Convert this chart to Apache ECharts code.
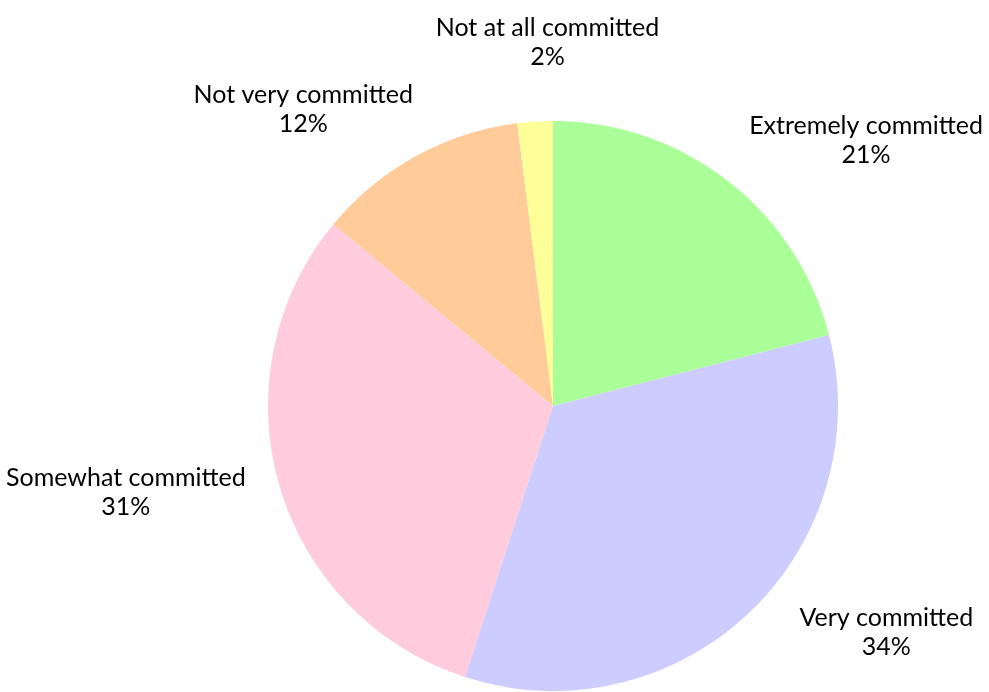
<!DOCTYPE html>
<html>
<head>
<meta charset="utf-8">
<script src="https://cdn.jsdelivr.net/npm/echarts@6/dist/echarts.min.js"></script>
<style>
  html, body { margin: 0; padding: 0; background: #fff; }
  #chart { width: 989px; height: 692px; }
</style>
</head>
<body>
<div id="chart"></div>
<script>
// commitment survey, percent of respondents
var categories = ['Extremely committed', 'Very committed', 'Somewhat committed', 'Not very committed', 'Not at all committed'];
var shares = [21, 34, 31, 12, 2];
var colors = ['#aaff99', '#ccccff', '#ffccdd', '#ffcc99', '#ffff99'];

var cx = 553, cy = 406, r = 285;
// labels sit on an oval a bit outside the pie
var labelRx = 360, labelRyTop = 336, labelRyBottom = 310;
var chartW = 989, pad = 6;

// mid angle of each slice, clockwise from the top
var total = shares.reduce(function (a, b) { return a + b; }, 0);
var mids = [];
var acc = 0;
shares.forEach(function (v) {
  mids.push((acc + v / 2) / total * Math.PI * 2);
  acc += v;
});

var myChart = echarts.init(document.getElementById('chart'));
var option = {
  animation: false,
  color: colors,
  series: [{
    type: 'pie',
    center: [cx, cy],
    radius: r,
    startAngle: 90,
    clockwise: true,
    data: categories.map(function (name, i) {
      return { name: name, value: shares[i] };
    }),
    itemStyle: { borderWidth: 0 },
    emphasis: { disabled: true },
    label: {
      show: true,
      position: 'outside',
      overflow: 'none',
      formatter: function (p) { return p.name + '\n' + p.value + '%'; },
      fontFamily: 'Lato',
      fontSize: 25,
      lineHeight: 29,
      color: '#000',
      align: 'center'
    },
    labelLine: { show: false },
    labelLayout: function (params) {
      var th = mids[params.dataIndex];
      var s = Math.sin(th), c = Math.cos(th);
      var w = params.labelRect.width, h = params.labelRect.height;
      var tx = (s < 0 ? -1 : 1) * Math.min(1, 3 * s * s);
      var ty = c * (1 - Math.abs(tx)) * (1 - Math.abs(tx));
      var ry = c > 0 ? labelRyTop : labelRyBottom;
      var x = cx + labelRx * s * Math.min(1, 3 * Math.abs(s)) + w / 2 * tx;
      var y = cy - ry * c - h / 2 * ty;
      // keep the text inside the canvas
      x = Math.max(pad + w / 2, Math.min(chartW - pad - w / 2, x));
      return { x: x, y: y, align: 'center', verticalAlign: 'middle' };
    }
  }]
};
myChart.setOption(option);
</script>
</body>
</html>
